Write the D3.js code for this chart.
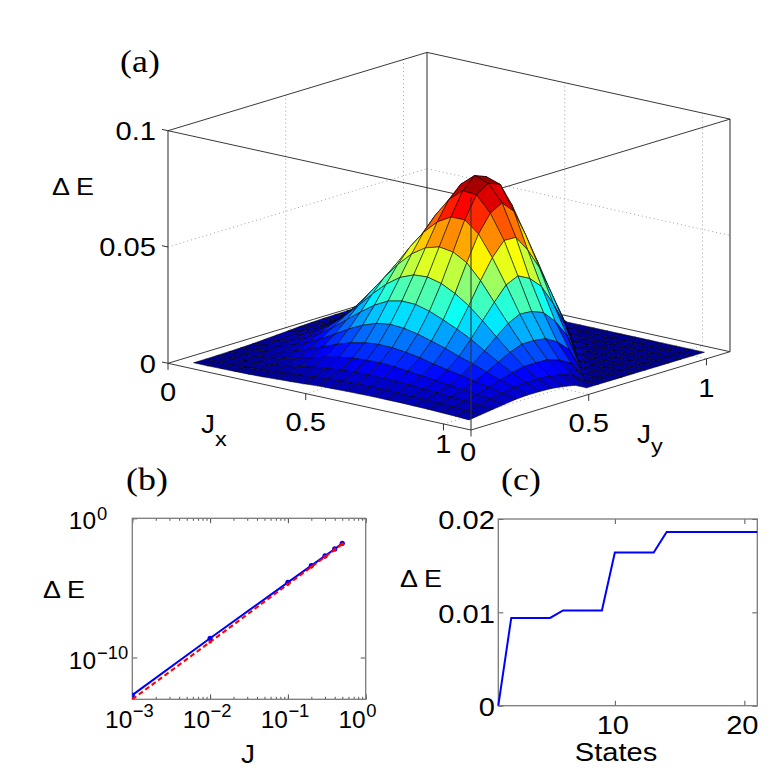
<!DOCTYPE html>
<html>
<head>
<meta charset="utf-8">
<title>Gap surface and scaling</title>
<script src="https://d3js.org/d3.v7.min.js"></script>
<style>
  body { margin: 0; background: #fff; }
  svg text { font-family: "Liberation Sans", Arial, Helvetica, sans-serif; fill: #000; }
  svg text.panel { font-family: "Liberation Serif", "Times New Roman", serif; }
</style>
</head>
<body>
<svg id="fig" width="770" height="775"></svg>
<script>
// ---------- panel (a): Delta E over (Jx, Jy), values in units of 1e-4
const gridJ = [0.05, 0.10, 0.15, 0.20, 0.25, 0.30, 0.35, 0.40, 0.45, 0.50, 0.55,
               0.60, 0.65, 0.70, 0.75, 0.80, 0.85, 0.90, 0.95, 1.00, 1.05];
// row = Jx index, column = Jy index
const dERows = [
  [0,0,1,2,3,5,8,11,14,18,20,22,23,24,24,24,23,22,20,18,15],
  [0,1,2,4,7,11,17,22,28,32,35,37,38,38,37,35,34,31,29,25,22],
  [1,2,4,8,14,22,32,41,49,55,59,61,60,58,55,51,47,43,39,35,29],
  [2,4,8,15,25,39,54,69,82,91,95,97,94,87,80,73,65,59,53,45,36],
  [3,7,14,25,42,63,86,109,129,142,148,147,140,130,116,104,92,80,68,55,43],
  [5,11,22,39,63,92,125,160,189,210,219,215,203,186,168,146,127,105,83,64,46],
  [8,17,32,54,86,125,172,218,260,291,304,302,286,262,235,205,168,132,100,70,45],
  [11,22,41,69,109,160,218,280,335,377,401,405,390,360,320,269,213,159,111,70,43],
  [14,28,49,82,129,189,260,335,405,463,502,519,510,477,413,333,255,179,112,68,36],
  [18,32,55,91,142,210,291,377,463,540,598,632,633,585,496,392,280,179,110,58,26],
  [20,35,59,95,148,219,304,401,502,598,680,730,725,659,555,416,276,172,93,41,0],
  [22,37,61,97,147,215,302,405,519,632,730,780,760,688,553,390,256,143,65,0,0],
  [23,38,60,94,140,203,286,390,510,633,725,760,740,637,484,340,203,96,0,0,0],
  [24,38,58,87,130,186,262,360,477,585,659,688,637,520,392,251,128,0,0,0,0],
  [24,37,55,80,116,168,235,320,413,496,555,553,484,392,270,147,0,0,0,0,0],
  [24,35,51,73,104,146,205,269,333,392,416,390,340,251,147,0,0,0,0,0,0],
  [23,34,47,65,92,127,168,213,255,280,276,256,203,128,0,0,0,0,0,0,0],
  [22,31,43,59,80,105,132,159,179,179,172,143,96,0,0,0,0,0,0,0,0],
  [20,29,39,53,68,83,100,111,112,110,93,65,0,0,0,0,0,0,0,0,0],
  [18,25,35,45,55,64,70,70,68,58,41,0,0,0,0,0,0,0,0,0,0],
  [15,22,29,36,43,46,45,43,36,26,0,0,0,0,0,0,0,0,0,0,0]
];
const zTicks = [0, 0.05, 0.1];
const zTickLabels = ['0', '0.05', '0.1'];
const jxTicks = [0, 0.5, 1];
const jyTicks = [0, 0.5, 1];
const jTickLabels = ['0', '0.5', '1'];

// ---------- panel (b): log-log scaling
const jLog = [0.001, 0.01, 0.1, 0.2, 0.3, 0.4, 0.5];
const dENumeric = [2.0e-13, 2.4e-9, 2.5e-5, 4.0e-4, 2.0e-3, 6.3e-3, 1.6e-2];
const dEFit = [1.0e-13, 1.3e-9, 1.8e-5, 3.2e-4, 1.7e-3, 5.5e-3, 1.4e-2];
const xLogTicks = [1e-3, 1e-2, 1e-1, 1];
const xLogExp = ['\u22123', '\u22122', '\u22121', '0'];
const yLogTicks = [1e-10, 1];
const yLogExp = ['\u221210', '0'];

// ---------- panel (c): gap versus number of states
const states = [1, 2, 3, 4, 5, 6, 7, 8, 9, 10, 11, 12, 13, 14, 15, 16, 17, 18, 19, 20, 21];
const dEStates = [0, 0.0094, 0.0094, 0.0094, 0.0094, 0.0102, 0.0102, 0.0102, 0.0102,
                  0.0164, 0.0164, 0.0164, 0.0164, 0.0186, 0.0186, 0.0186, 0.0186,
                  0.0186, 0.0186, 0.0186, 0.0186];
const cXTicks = [10, 20];
const cYTicks = [0, 0.01, 0.02];
const cYLabels = ['0', '0.01', '0.02'];

const svg = d3.select('#fig');
svg.append('rect').attr('width', 770).attr('height', 775).attr('fill', '#fff');

// text is a little wider than plain Arial in the original export
function label(g, x, y, str, size, anchor, stretch) {
  return g.append('text')
    .attr('transform', `translate(${x},${y}) scale(${stretch || 1.12},1)`)
    .attr('text-anchor', anchor || 'middle')
    .attr('font-size', size)
    .text(str);
}

// ================= (a) =================
const ga = svg.append('g');
const O = [168, 363.3], A = [303, 66.7], B = [259, -78.3];
const sx = d3.scaleLinear().domain([0, 1.1]).range([0, 1]);
const sy = d3.scaleLinear().domain([0, 1.1]).range([0, 1]);
const sz = d3.scaleLinear().domain([0, 0.1]).range([0, 232.6]);
const proj = (x, y, z) => {
  const a = sx(x), b = sy(y);
  return [O[0] + a * A[0] + b * B[0], O[1] + a * A[1] + b * B[1] - sz(z)];
};
const seg = (g, p, q) => g.append('line')
  .attr('x1', p[0]).attr('y1', p[1]).attr('x2', q[0]).attr('y2', q[1]);

// grid lines on floor and back walls
const grid = ga.append('g').attr('stroke', '#8a8a8a').attr('stroke-width', 0.8)
  .attr('stroke-dasharray', '1,3');
[0.5, 1].forEach(v => {
  seg(grid, proj(v, 0, 0), proj(v, 1.1, 0));
  seg(grid, proj(0, v, 0), proj(1.1, v, 0));
  seg(grid, proj(0, v, 0), proj(0, v, 0.1));
  seg(grid, proj(v, 1.1, 0), proj(v, 1.1, 0.1));
});
seg(grid, proj(0, 0, 0.05), proj(0, 1.1, 0.05));
seg(grid, proj(0, 1.1, 0.05), proj(1.1, 1.1, 0.05));

// back part of the box
const boxBack = ga.append('g').attr('stroke', '#222').attr('stroke-width', 0.9);
seg(boxBack, proj(0, 0, 0), proj(0, 1.1, 0));
seg(boxBack, proj(0, 1.1, 0), proj(1.1, 1.1, 0));
[[0, 0], [0, 1.1], [1.1, 1.1]].forEach(([x, y]) =>
  seg(boxBack, proj(x, y, 0), proj(x, y, 0.1)).attr('stroke', '#666').attr('stroke-width', 1.4));
seg(boxBack, proj(0, 0, 0.1), proj(0, 1.1, 0.1));
seg(boxBack, proj(0, 1.1, 0.1), proj(1.1, 1.1, 0.1));
seg(boxBack, proj(0, 0, 0.1), proj(1.1, 0, 0.1));
seg(boxBack, proj(1.1, 0, 0.1), proj(1.1, 1.1, 0.1));

// surface faces, painted back to front
const zMax = d3.max(dERows, r => d3.max(r)) * 1e-4;
const jet = d3.scaleLinear()
  .domain([0, 0.11, 0.365, 0.62, 0.873, 1].map(t => t * zMax))
  .range(['#00008f', '#0000ff', '#00ffff', '#ffff00', '#ff0000', '#800000'])
  .clamp(true);
const faces = [];
for (let i = 0; i < gridJ.length - 1; i++) {
  for (let j = 0; j < gridJ.length - 1; j++) {
    const corners = [[i, j], [i + 1, j], [i + 1, j + 1], [i, j + 1]];
    const zs = corners.map(([a, b]) => dERows[a][b] * 1e-4);
    faces.push({
      pts: corners.map(([a, b], k) => proj(gridJ[a], gridJ[b], zs[k])),
      z: d3.mean(zs),
      depth: 259 * (i + 0.5) - 303 * (j + 0.5)
    });
  }
}
faces.sort((p, q) => p.depth - q.depth);
ga.append('g').selectAll('path').data(faces).join('path')
  .attr('d', f => 'M' + f.pts.map(p => p.join(',')).join('L') + 'Z')
  .attr('fill', f => jet(f.z))
  .attr('stroke', '#000').attr('stroke-width', 0.55).attr('stroke-linejoin', 'round');

// front part of the box
const boxFront = ga.append('g').attr('stroke', '#222').attr('stroke-width', 0.9);
seg(boxFront, proj(0, 0, 0), proj(1.1, 0, 0));
seg(boxFront, proj(1.1, 0, 0), proj(1.1, 1.1, 0));
seg(boxFront, proj(1.1, 0, 0), proj(1.1, 0, 0.1)).attr('stroke', '#333').attr('stroke-width', 1.1);

// ticks
const ticksA = ga.append('g').attr('stroke', '#333').attr('stroke-width', 1);
zTicks.forEach(z => {
  const p = proj(0, 0, z);
  seg(ticksA, p, [p[0] - 6, p[1] - 1.3]);
});
jxTicks.forEach(x => { const p = proj(x, 0, 0); seg(ticksA, p, [p[0], p[1] + 6.5]); });
jyTicks.forEach(y => { const p = proj(1.1, y, 0); seg(ticksA, p, [p[0], p[1] + 6.5]); });

// tick labels
zTicks.forEach((z, k) => {
  const p = proj(0, 0, z);
  label(ga, 156, p[1], zTickLabels[k], 26, 'end').attr('dy', '0.36em');
});
jxTicks.forEach((x, k) => {
  const p = proj(x, 0, 0);
  label(ga, p[0], p[1] + 28.4 - 8.4 * Math.pow(x, 4), jTickLabels[k], 26).attr('dy', '0.36em');
});
jyTicks.forEach((y, k) => {
  const p = proj(1.1, y, 0);
  label(ga, p[0] - (y === 0 ? 3 : 0), p[1] + 29.2 - 7.7 * Math.pow(1 - y, 4), jTickLabels[k], 26)
    .attr('dy', '0.36em');
});

// axis titles
label(ga, 73, 186, '\u0394 E', 24).attr('dy', '0.36em');
const jxLab = label(ga, 201, 433, '', 25, 'start');
jxLab.append('tspan').text('J');
jxLab.append('tspan').attr('dy', 13).attr('font-size', 21).text('x');
const jyLab = label(ga, 637, 443, '', 25, 'start');
jyLab.append('tspan').text('J');
jyLab.append('tspan').attr('dy', 10).attr('font-size', 21).text('y');
label(ga, 140, 72, '(a)', 32).attr('class', 'panel');

// ================= (b) =================
const gb = svg.append('g');
const xb = d3.scaleLog().domain([1e-3, 1]).range([132.3, 365.7]);
const yb = d3.scaleLog().domain([1e-13, 1]).range([699.3, 518.3]);
svg.append('clipPath').attr('id', 'clipB').append('rect')
  .attr('x', 132.3).attr('y', 518.3).attr('width', 233.4).attr('height', 181);

const axB = gb.append('g');
axB.append('g').attr('transform', 'translate(0,699.3)')
  .call(d3.axisBottom(xb).tickValues(xb.ticks()).tickSize(-2.5).tickFormat(''));
axB.append('g').attr('transform', 'translate(0,518.3)')
  .call(d3.axisTop(xb).tickValues(xb.ticks()).tickSize(-2.5).tickFormat(''));
axB.append('g').attr('transform', 'translate(0,699.3)')
  .call(d3.axisBottom(xb).tickValues(xLogTicks).tickSize(-5).tickFormat(''));
axB.append('g').attr('transform', 'translate(0,518.3)')
  .call(d3.axisTop(xb).tickValues(xLogTicks).tickSize(-5).tickFormat(''));
axB.append('g').attr('transform', 'translate(132.3,0)')
  .call(d3.axisLeft(yb).tickValues(yLogTicks).tickSize(-5).tickFormat(''));
axB.append('g').attr('transform', 'translate(365.7,0)')
  .call(d3.axisRight(yb).tickValues(yLogTicks).tickSize(-5).tickFormat(''));
axB.selectAll('.domain').remove();
axB.selectAll('.tick line').attr('stroke', '#555');
gb.append('rect').attr('x', 132.3).attr('y', 518.3).attr('width', 233.4).attr('height', 181)
  .attr('fill', 'none').attr('stroke', '#7a7a7a').attr('stroke-width', 1.3);

const ptsNum = jLog.map((j, k) => [j, dENumeric[k]]);
const ptsFit = jLog.map((j, k) => [j, dEFit[k]]);
const lineB = d3.line().x(d => xb(d[0])).y(d => yb(d[1]));
const plotB = gb.append('g').attr('clip-path', 'url(#clipB)');
plotB.append('path').attr('d', lineB(ptsNum)).attr('fill', 'none')
  .attr('stroke', '#0000ff').attr('stroke-width', 2);
plotB.selectAll('circle.num').data(ptsNum).join('circle').attr('class', 'num')
  .attr('cx', d => xb(d[0])).attr('cy', d => yb(d[1])).attr('r', 2.6).attr('fill', '#0000ff');
plotB.append('path').attr('d', lineB(ptsFit)).attr('fill', 'none')
  .attr('stroke', '#ff0000').attr('stroke-width', 2).attr('stroke-dasharray', '5,3');
plotB.selectAll('circle.fit').data(ptsFit).join('circle').attr('class', 'fit')
  .attr('cx', d => xb(d[0])).attr('cy', d => yb(d[1])).attr('r', 1.8).attr('fill', '#ff0000');

xLogTicks.forEach((t, k) => {
  label(gb, xb(t), 727.5, '10', 24, 'end', 1.02);
  label(gb, xb(t) + 0.5, 716.5, xLogExp[k], 18, 'start', 1.02);
});
yLogTicks.forEach((t, k) => {
  label(gb, 96, yb(t) + 11, '10', 24, 'end', 1.02);
  label(gb, 97, yb(t) + 1.5, yLogExp[k], 18, 'start', 1.02);
});
label(gb, 64, 589, '\u0394 E', 24).attr('dy', '0.36em');
label(gb, 248, 754, 'J', 25).attr('dy', '0.36em');
label(gb, 147, 490, '(b)', 32).attr('class', 'panel');

// ================= (c) =================
const gc = svg.append('g');
const xc = d3.scaleLinear().domain([1, 21]).range([498.3, 757.3]);
const yc = d3.scaleLinear().domain([0, 0.02]).range([705.7, 519]);
const axC = gc.append('g');
axC.append('g').attr('transform', 'translate(0,705.7)')
  .call(d3.axisBottom(xc).tickValues(cXTicks).tickSize(-5).tickFormat(''));
axC.append('g').attr('transform', 'translate(0,519)')
  .call(d3.axisTop(xc).tickValues(cXTicks).tickSize(-5).tickFormat(''));
axC.append('g').attr('transform', 'translate(498.3,0)')
  .call(d3.axisLeft(yc).tickValues(cYTicks).tickSize(-5).tickFormat(''));
axC.append('g').attr('transform', 'translate(757.3,0)')
  .call(d3.axisRight(yc).tickValues(cYTicks).tickSize(-5).tickFormat(''));
axC.selectAll('.domain').remove();
axC.selectAll('.tick line').attr('stroke', '#555');
gc.append('rect').attr('x', 498.3).attr('y', 519).attr('width', 259).attr('height', 186.7)
  .attr('fill', 'none').attr('stroke', '#7a7a7a').attr('stroke-width', 1.3);
gc.append('path')
  .attr('d', d3.line().x((d, k) => xc(states[k])).y(d => yc(d))(dEStates))
  .attr('fill', 'none').attr('stroke', '#0000ff').attr('stroke-width', 2);

cXTicks.forEach(t => label(gc, xc(t) - 2, 725, String(t), 26).attr('dy', '0.36em'));
cYTicks.forEach((t, k) => label(gc, 495, yc(t) + 1, cYLabels[k], 26, 'end').attr('dy', '0.36em'));
label(gc, 616, 752, 'States', 26).attr('dy', '0.36em');
label(gc, 421, 578.5, '\u0394 E', 24).attr('dy', '0.36em');
label(gc, 521, 490, '(c)', 32).attr('class', 'panel');
</script>
</body>
</html>
